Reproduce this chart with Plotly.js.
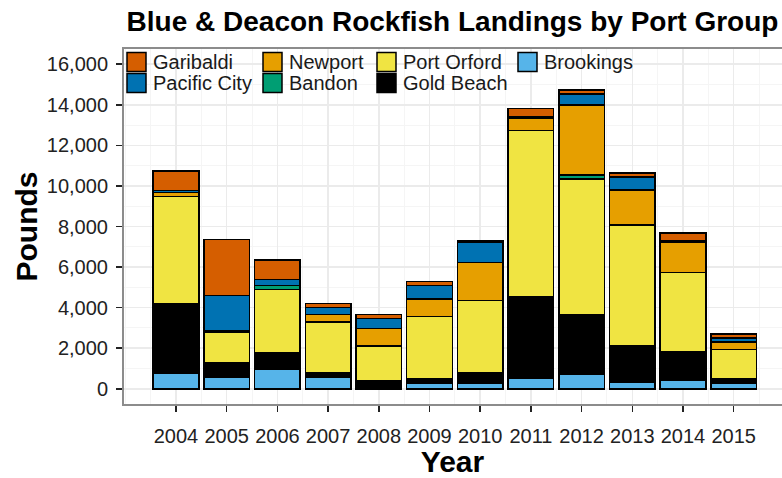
<!DOCTYPE html>
<html>
<head>
<meta charset="utf-8">
<script src="https://cdn.plot.ly/plotly-3.0.1.min.js"></script>
<style>html,body{margin:0;padding:0;background:#fff;}#chart{width:782px;height:478px;}</style>
</head>
<body>
<div id="chart"></div>
<script>
// Data (pounds landed)
var years = [2004, 2005, 2006, 2007, 2008, 2009, 2010, 2011, 2012, 2013, 2014, 2015];
var yearLabels = ["2004","2005","2006","2007","2008","2009","2010","2011","2012","2013","2014","2015"];
var brookings   = [750, 550, 940, 560,   0, 260, 260,  530,  740,  330,  440, 280];
var goldBeach   = [3420, 740, 840, 220, 420, 230, 530, 4000, 2910, 1810, 1400, 210];
var portOrford  = [5300, 1480, 3120, 2500, 1680, 3080, 3560, 8200, 6680, 5930, 3900, 1440];
var bandon      = [0, 0, 190, 0, 0, 0, 0, 0, 210, 0, 0, 0];
var newport     = [200, 80, 0, 390, 860, 850, 1880, 620, 3450, 1730, 1500, 380];
var pacificCity = [100, 1760, 290, 330, 500, 680, 1000, 80, 540, 650, 80, 200];
var garibaldi   = [960, 2760, 960, 200, 200, 200, 60, 380, 200, 180, 360, 180];

// Legend order (as in reference, column-major 2 rows)
var legendNames = ["Garibaldi", "Pacific City", "Newport", "Bandon", "Port Orford", "Gold Beach", "Brookings"];
var colors = {
  "Garibaldi": "#D55E00",
  "Pacific City": "#0072B2",
  "Newport": "#E69F00",
  "Bandon": "#009E73",
  "Port Orford": "#F0E442",
  "Gold Beach": "#000000",
  "Brookings": "#56B4E9"
};
// Stack from bottom to top
var stackOrder = [
  ["Brookings", brookings],
  ["Gold Beach", goldBeach],
  ["Port Orford", portOrford],
  ["Bandon", bandon],
  ["Newport", newport],
  ["Pacific City", pacificCity],
  ["Garibaldi", garibaldi]
];

var traces = stackOrder.map(function (s) {
  return {
    type: "bar",
    name: s[0],
    x: years,
    y: s[1],
    width: 0.9,
    marker: { color: colors[s[0]], line: { color: "#000000", width: 1.5 } },
    showlegend: false,
    hovertemplate: s[0] + " %{x}: %{y:,}<extra></extra>"
  };
});

// Pixel geometry of the plot area
var W = 782, H = 478;
var mL = 123, mR = 0, mT = 48, mB = 73;
var pw = W - mL - mR, ph = H - mT - mB;
function px2x(p) { return (p - mL) / pw; }
function py2y(p) { return (H - mB - p) / ph; }

// Manual legend laid out like ggplot's (2 rows, 4 columns)
var colX = [127, 263, 377, 518];
var rowY = [62, 83];
var shapes = [];
var annotations = [];
legendNames.forEach(function (name, i) {
  var col = Math.floor(i / 2), row = i % 2;
  var x0 = colX[col], yc = rowY[row];
  shapes.push({
    type: "rect", xref: "paper", yref: "paper",
    x0: px2x(x0), x1: px2x(x0 + 19), y0: py2y(yc + 9.5), y1: py2y(yc - 9.5),
    fillcolor: colors[name], line: { color: "#000000", width: 1.5 }, layer: "above"
  });
  annotations.push({
    xref: "paper", yref: "paper", x: px2x(x0 + 24), y: py2y(yc),
    xanchor: "left", yanchor: "middle", showarrow: false, text: name,
    font: { family: "Arial, 'Liberation Sans', sans-serif", size: 20, color: "#1a1a1a" }
  });
});
// Panel border (the right side lies beyond the picture, as in the reference)
shapes.push({
  type: "rect", xref: "paper", yref: "paper", x0: 0, x1: 1.05, y0: 0, y1: 1,
  line: { color: "#8c8c8c", width: 2 }, fillcolor: "rgba(0,0,0,0)", layer: "above"
});

var layout = {
  width: W, height: H,
  margin: { l: mL, r: mR, t: mT, b: mB, pad: 0 },
  paper_bgcolor: "#ffffff", plot_bgcolor: "#ffffff",
  barmode: "stack",
  showlegend: false,
  font: { family: "Arial, 'Liberation Sans', sans-serif", color: "#222222" },
  title: {
    text: "<b>Blue & Deacon Rockfish Landings by Port Group</b>",
    font: { family: "Arial, 'Liberation Sans', sans-serif", size: 28, color: "#000000" },
    xref: "paper", x: 0.5, xanchor: "center",
    yref: "container", y: 1 - 21 / H, yanchor: "middle"
  },
  xaxis: {
    range: [2004 - (176 - mL) / 50.7, 2004 + (W - 176) / 50.7],
    tickmode: "array", tickvals: years, ticktext: yearLabels,
    ticks: "outside", ticklen: 6, tickwidth: 1.5, tickcolor: "#222222",
    tickfont: { size: 20, color: "#222222" },
    ticklabelstandoff: 7,
    showgrid: true, gridcolor: "#ebebeb", gridwidth: 1.5,
    minor: { dtick: 0.5, tick0: 2003.5, showgrid: true, gridcolor: "#f5f5f5", gridwidth: 1, ticks: "" },
    zeroline: false, showline: false,
    title: { text: "<b>Year</b>", font: { size: 30, color: "#000000" }, standoff: 4 }
  },
  yaxis: {
    range: [-800, 16800],
    tickmode: "linear", tick0: 0, dtick: 2000, tickformat: ",d",
    ticks: "outside", ticklen: 6, tickwidth: 1.5, tickcolor: "#222222",
    tickfont: { size: 20, color: "#222222" },
    ticklabelstandoff: 4,
    showgrid: true, gridcolor: "#ebebeb", gridwidth: 1.5,
    minor: { dtick: 1000, showgrid: true, gridcolor: "#f5f5f5", gridwidth: 1, ticks: "" },
    zeroline: false, showline: false,
    title: { text: "<b>Pounds</b>", font: { size: 30, color: "#000000" }, standoff: 0 }
  },
  shapes: shapes,
  annotations: annotations
};

Plotly.newPlot("chart", traces, layout, { displayModeBar: false, staticPlot: true });
</script>
</body>
</html>
